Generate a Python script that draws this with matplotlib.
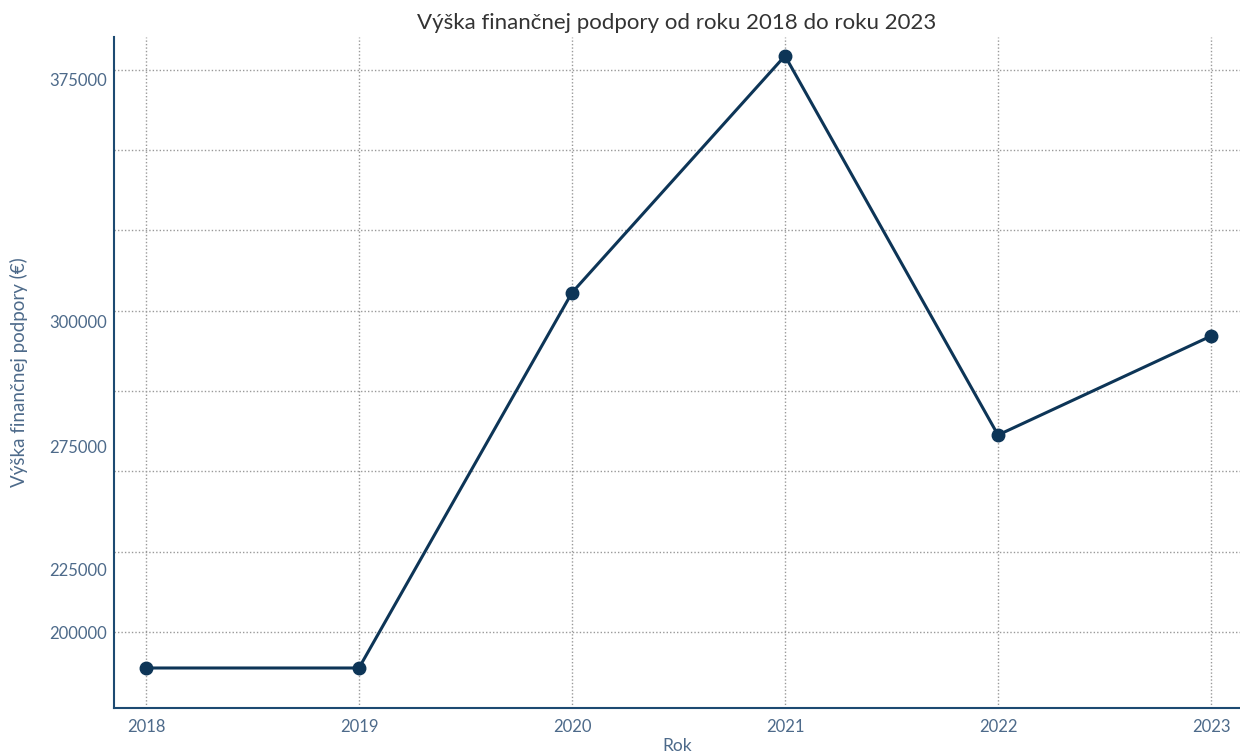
import matplotlib
matplotlib.use("Agg")
import matplotlib.pyplot as plt
from matplotlib.ticker import FixedLocator, MultipleLocator

years = [2018, 2019, 2020, 2021, 2022, 2023]
support = [188800, 188800, 305600, 379300, 261300, 292100]

# tick labels as drawn in the reference (placed where they appear)
ytick_pos = [371800, 296500, 257600, 219600, 199700]
ytick_labels = ["375000", "300000", "275000", "225000", "200000"]

title = "Výška finančnej podpory od roku 2018 do roku 2023"
xlabel = "Rok"
ylabel = "Výška finančnej podpory (€)"

plt.rcParams['font.family'] = ['Lato', 'DejaVu Sans']

line_c = "#0d3557"
text_c = "#4d6a8a"
spine_c = "#1d4a72"

fig = plt.figure(figsize=(12.4, 7.54), dpi=100)
ax = fig.add_axes([114/1240, 1 - 708/754, 1 - 114/1240, (708 - 37)/754])

ax.plot(years, support, color=line_c, lw=2.2, marker='o', markersize=9, zorder=3)

ax.set_xlim(2017.85, 2023.136)
ax.set_ylim(176350, 385160)

ax.set_xticks(years)
ax.set_xticklabels([str(y) for y in years])
ax.yaxis.set_major_locator(FixedLocator(ytick_pos))
ax.set_yticklabels(ytick_labels)
ax.yaxis.set_minor_locator(MultipleLocator(25000))

ax.grid(False)
ax.grid(True, axis='x', which='major', color='#999999', ls=(0, (1, 1.5)), lw=1)
ax.grid(True, axis='y', which='minor', color='#999999', ls=(0, (1, 1.5)), lw=1)

ax.tick_params(axis='both', which='both', length=0, colors=text_c, labelsize=12)
ax.tick_params(axis='y', pad=5)
ax.tick_params(axis='x', pad=8)

for s in ['top', 'right']:
    ax.spines[s].set_visible(False)
for s in ['left', 'bottom']:
    ax.spines[s].set_color(spine_c)
    ax.spines[s].set_linewidth(1.5)

ax.set_title(title, fontsize=16, color="#333333", pad=6)
ax.set_xlabel(xlabel, fontsize=12.5, color=text_c, labelpad=2)
ax.set_ylabel(ylabel, fontsize=13.5, color=text_c, labelpad=15)

fig.savefig("out.png", dpi=100)
